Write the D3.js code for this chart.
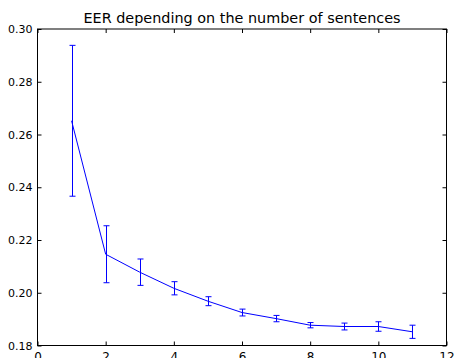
<!DOCTYPE html>
<html><head><meta charset="utf-8">
<script src="https://cdn.jsdelivr.net/npm/d3@7"></script>
<style>body{margin:0;background:#fff;}svg{display:block;}</style>
</head><body>
<script>
const title = "EER depending on the number of sentences";
const sentences = [1,2,3,4,5,6,7,8,9,10,11];
const eer = [0.2652,0.2146,0.2078,0.2017,0.1968,0.1925,0.1902,0.1877,0.1872,0.1872,0.1852];
const err = [0.0286,0.0108,0.0050,0.0025,0.0017,0.0013,0.0012,0.0010,0.0013,0.0018,0.0025];
const xTicks = [0,2,4,6,8,10,12];
const yTicks = [0.18,0.20,0.22,0.24,0.26,0.28,0.30];

const W=455,H=358;
const m={l:37.5,r:8.5,t:29,b:12.5};
const svg=d3.select("body").append("svg").attr("width",W).attr("height",H);
const x=d3.scaleLinear().domain([0,12]).range([m.l,W-m.r]);
const y=d3.scaleLinear().domain([0.18,0.30]).range([H-m.b,m.t]);
const font="DejaVu Sans";

// title
svg.append("text").attr("x",(m.l+W-m.r)/2).attr("y",23).attr("text-anchor","middle")
 .attr("font-family",font).attr("font-size",14.4).text(title);

// axes with inward ticks
const fmt=d3.format(".2f");
svg.append("g").attr("transform",`translate(0,${H-m.b})`)
 .call(d3.axisBottom(x).tickValues(xTicks).tickSizeInner(-4).tickSizeOuter(0).tickPadding(7).tickFormat(d3.format("d")))
 .call(g=>{g.select(".domain").remove();g.selectAll("text").attr("font-family",font).attr("font-size",12).attr("fill","#000");});
svg.append("g").attr("transform",`translate(0,${m.t})`)
 .call(d3.axisTop(x).tickValues(xTicks).tickSizeInner(-4).tickSizeOuter(0).tickFormat(""))
 .call(g=>g.select(".domain").remove());
svg.append("g").attr("transform",`translate(${m.l},0)`)
 .call(d3.axisLeft(y).tickValues(yTicks).tickSizeInner(-4).tickSizeOuter(0).tickPadding(5).tickFormat(fmt))
 .call(g=>{g.select(".domain").remove();g.selectAll("text").attr("font-family",font).attr("font-size",11).attr("fill","#000");});
svg.append("g").attr("transform",`translate(${W-m.r},0)`)
 .call(d3.axisRight(y).tickValues(yTicks).tickSizeInner(-4).tickSizeOuter(0).tickFormat(""))
 .call(g=>g.select(".domain").remove());

// line
const pts=sentences.map((s,i)=>({x:s,y:eer[i],e:err[i]}));
svg.append("path").datum(pts).attr("fill","none").attr("stroke","#0000ff").attr("stroke-width",1)
 .attr("d",d3.line().x(d=>x(d.x)).y(d=>y(d.y)));

// error bars
const eb=svg.append("g").attr("stroke","#0000ff").attr("stroke-width",1);
pts.forEach(d=>{
  const cx=Math.round(x(d.x))+0.5;
  eb.append("line").attr("x1",cx).attr("x2",cx).attr("y1",y(d.y-d.e)).attr("y2",y(d.y+d.e));
  [d.y-d.e,d.y+d.e].forEach(v=>{
    eb.append("line").attr("x1",cx-3).attr("x2",cx+3).attr("y1",y(v)).attr("y2",y(v));
  });
});

// frame
svg.append("rect").attr("x",m.l).attr("y",m.t).attr("width",W-m.l-m.r).attr("height",H-m.t-m.b)
 .attr("fill","none").attr("stroke","#000").attr("stroke-width",1);
</script>
</body></html>
